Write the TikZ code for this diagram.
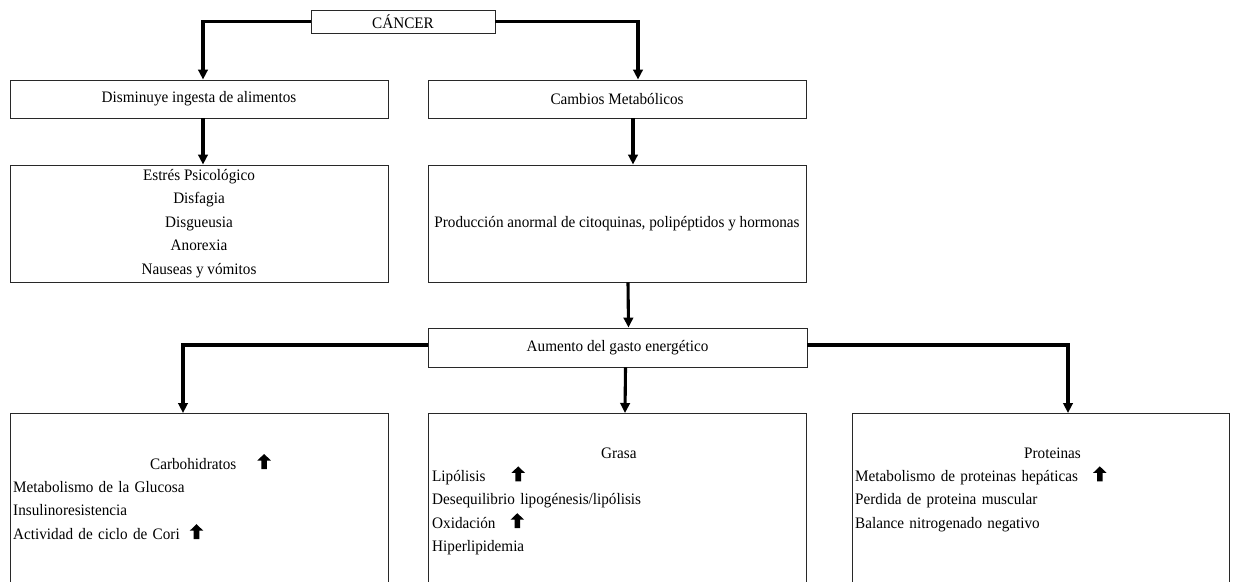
\documentclass[tikz,border=0pt]{standalone}
\usepackage{fontspec}
\setmainfont{Liberation Serif}[FakeStretch=0.95]
\usetikzlibrary{arrows.meta,positioning}
\definecolor{borde}{RGB}{40,40,40}
\tikzset{
  caja/.style={draw=borde,line width=0.9pt,inner sep=2pt,minimum width=378pt,minimum height=38pt,align=center},
  ancha/.style={caja,minimum height=117pt},
  cajabaja/.style={caja,minimum height=210pt,anchor=north},
  lista/.style={inner sep=0pt,text width=360pt,align=left,anchor=base west},
  flecha/.style={-{Triangle[length=10pt,width=9.5pt]},line width=3.1pt}
}
% flecha negra hacia arriba dentro del texto
\newcommand{\sube}{\tikz[x=1pt,y=1pt,baseline=0pt]\fill[black] (-2.8,0) -- (-2.8,8.5) -- (-6.8,8.5) -- (0,15) -- (6.8,8.5) -- (2.8,8.5) -- (2.8,0) -- cycle;}

\begin{document}
\begin{tikzpicture}[x=1pt,y=-1pt,font=\fontsize{16}{23.4}\selectfont]
  \useasboundingbox (0,0) rectangle (1233,581);
  \clip (0,0) rectangle (1233,581);
  \node[caja,minimum width=184pt,minimum height=23pt] (cancer) at (403,21.5) {CÁNCER};
  \node[caja] (dism) at (199,99) {Disminuye ingesta de alimentos};
  \node[caja] (camb) at (617,99) {Cambios Metabólicos};
  \node[ancha] (sint) at (199,223.5) {Estrés Psicológico\\Disfagia\\Disgueusia\\Anorexia\\Nauseas y vómitos};
  \node[ancha] (prod) at (617,223.5) {Producción anormal de citoquinas, polipéptidos y hormonas};
  \node[caja,minimum width=379pt,minimum height=39pt] (aum) at (617.5,347.5) {Aumento del gasto energético};

  % tres cajas de abajo, cortadas por el borde
  \node[cajabaja] (carb) at (199,413) {};
  \node[cajabaja] (grasa) at (617,413) {};
  \node[cajabaja,minimum width=377pt] (prot) at (1040.5,413) {};
  \node[lista] (carbtxt) at (13,469) {\hspace*{137pt}Carbohidratos\hspace{21pt}\sube\\Metabolismo de la Glucosa\\Insulinoresistencia\\Actividad de ciclo de Cori\hspace{10pt}\sube};
  \node[lista] (grasatxt) at (432,458) {\hspace*{169pt}Grasa\\Lipólisis\hspace{26pt}\sube\\Desequilibrio lipogénesis/lipólisis\\Oxidación\hspace{15pt}\sube\\Hiperlipidemia};
  \node[lista] (prottxt) at (855,458) {\hspace*{169pt}Proteinas\\Metabolismo de proteinas hepáticas\hspace{15pt}\sube\\Perdida de proteina muscular\\Balance nitrogenado negativo};

  \draw[flecha] (cancer.west) -| ([xshift=4pt]dism.north);
  \draw[flecha] (cancer.east) -| ([xshift=21pt]camb.north);
  \draw[flecha] ([xshift=4pt]dism.south) -- ([xshift=4pt]sint.north);
  \draw[flecha] ([xshift=16pt]camb.south) -- ([xshift=16pt]prod.north);
  \draw[flecha] ([xshift=11pt]prod.south) -- ([xshift=11pt]aum.north);
  \draw[flecha] ([xshift=8pt]aum.south) -- ([xshift=8pt]grasa.north);
  \draw[flecha] ([yshift=2.5pt]aum.west) -| ([xshift=-16pt]carb.north);
  \draw[flecha] ([yshift=2.5pt]aum.east) -| ([xshift=27.5pt]prot.north);
\end{tikzpicture}
\end{document}
